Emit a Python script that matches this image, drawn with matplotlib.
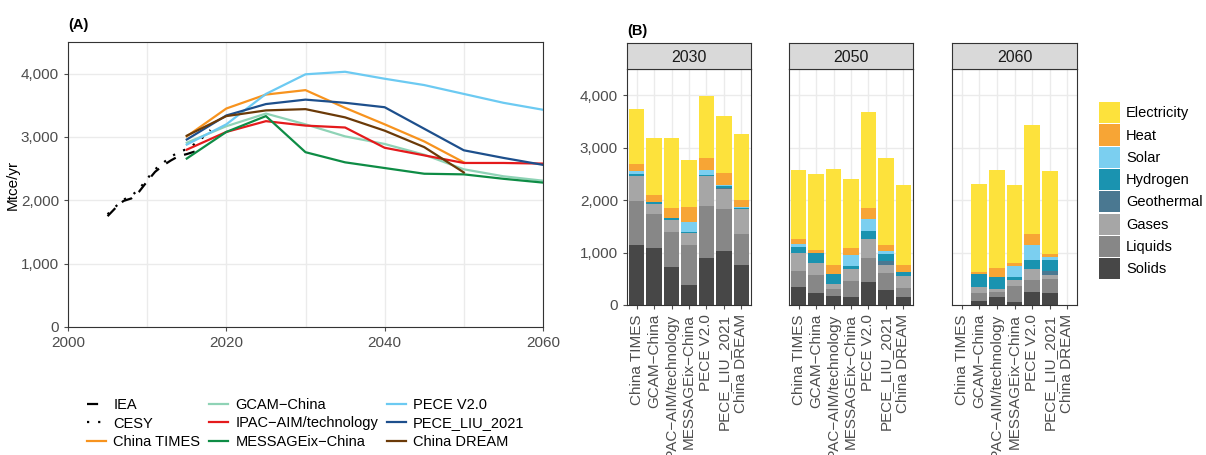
import matplotlib.pyplot as plt
import numpy as np

plt.rcParams['font.family'] = ['Liberation Sans', 'DejaVu Sans']

# ---- Panel A data ----
iea_years = list(range(2005, 2018))
iea_vals = [1750, 1880, 1990, 2030, 2140, 2300, 2450, 2550, 2630, 2700, 2730, 2770, 2820]
cesy_years = list(range(2005, 2019))
cesy_vals = [1780, 1900, 2010, 2070, 2180, 2340, 2490, 2590, 2690, 2760, 2810, 2890, 2990, 3110]

model_years = [2015, 2020, 2025, 2030, 2035, 2040, 2045, 2050, 2055, 2060]
china_times = [3010, 3450, 3670, 3740, 3460, 3200, 2930, 2600]
gcam = [2910, 3170, 3370, 3200, 3010, 2890, 2720, 2490, 2380, 2310]
ipac = [2800, 3080, 3250, 3180, 3150, 2830, 2710, 2590, 2590, 2580]
message = [2660, 3080, 3330, 2760, 2600, 2510, 2420, 2410, 2340, 2280]
pece_v2 = [2880, 3200, 3680, 3990, 4030, 3920, 3820, 3680, 3540, 3430]
pece_liu = [2960, 3340, 3520, 3590, 3540, 3470, 3130, 2790, 2670, 2560]
china_dream = [3020, 3330, 3420, 3440, 3310, 3100, 2840, 2440]

# ---- Panel B data ----
models = ['China TIMES', 'GCAM\u2212China', 'IPAC\u2212AIM/technology', 'MESSAGEix\u2212China',
          'PECE V2.0', 'PECE_LIU_2021', 'China DREAM']
years_b = ['2030', '2050', '2060']
carriers = ['Solids', 'Liquids', 'Gases', 'Geothermal', 'Hydrogen', 'Solar', 'Heat', 'Electricity']
carrier_colors = ['#474747', '#878787', '#a6a6a6', '#4a7891', '#1a93b0', '#7bcff0', '#f7a535', '#fde23c']

# cumulative tops per bar, order: Solids, Liquids, Gases, Geothermal, Hydrogen, Solar, Heat, Electricity
tops_2030 = [
    [1146, 1987, 2465, 2465, 2490, 2548, 2694, 3739],
    [1083, 1732, 1930, 1930, 1955, 1955, 2102, 3185],
    [720, 1389, 1624, 1624, 1650, 1650, 1854, 3185],
    [382, 1146, 1376, 1376, 1401, 1586, 1873, 2771],
    [892, 1892, 2465, 2465, 2478, 2580, 2809, 3994],
    [1032, 1834, 2217, 2236, 2261, 2280, 2522, 3611],
    [764, 1357, 1822, 1822, 1841, 1860, 2006, 3268],
]
tops_2050 = [
    [344, 650, 1000, 1000, 1115, 1172, 1261, 2580],
    [229, 573, 809, 809, 994, 994, 1051, 2503],
    [172, 306, 408, 408, 592, 592, 764, 2599],
    [153, 459, 688, 688, 745, 949, 1089, 2408],
    [439, 892, 1261, 1261, 1414, 1637, 1854, 3688],
    [287, 611, 764, 834, 981, 1025, 1146, 2809],
    [153, 325, 554, 554, 637, 637, 764, 2287],
]
tops_2060 = [
    [0, 0, 0, 0, 0, 0, 0, 0],
    [76, 236, 350, 350, 599, 599, 637, 2312],
    [153, 248, 306, 306, 541, 541, 713, 2580],
    [57, 369, 484, 484, 541, 752, 809, 2293],
    [248, 478, 694, 694, 866, 1140, 1357, 3439],
    [229, 497, 580, 650, 866, 917, 975, 2561],
    [0, 0, 0, 0, 0, 0, 0, 0],
]
tops_all = [tops_2030, tops_2050, tops_2060]

W, H = 1206, 455
fig = plt.figure(figsize=(W / 100, H / 100), dpi=100)


def box(l, t, r, b):
    return [l / W, 1 - b / H, (r - l) / W, (b - t) / H]


grid_c = '#ebebeb'
tick_c = '#4d4d4d'
frame_c = '#333333'
fs = 10.5

# ---- Panel A ----
ax = fig.add_axes(box(68, 42, 543, 327))
ax.set_xlim(2000, 2060)
ax.set_ylim(0, 4500)
ax.set_xticks([2000, 2020, 2040, 2060])
ax.set_xticks([2010, 2030, 2050], minor=True)
ax.set_yticks([0, 1000, 2000, 3000, 4000])
ax.set_yticklabels(['0', '1,000', '2,000', '3,000', '4,000'])
ax.grid(True, which='both', color=grid_c, lw=1)
ax.set_axisbelow(True)
ax.tick_params(labelsize=fs + 0.5, colors=tick_c, length=3, which='major')
ax.tick_params(which='minor', length=0)
for s in ax.spines.values():
    s.set_color(frame_c)
ax.set_ylabel('Mtce/yr', fontsize=fs + 0.5)
ax.yaxis.set_label_coords(-48 / 475, 0.5)

lw = 1.6
lines = [
    ('IEA', iea_years, iea_vals, 'black', (0, (5, 4))),
    ('CESY', cesy_years, cesy_vals, 'black', (0, (1, 4))),
    ('China TIMES', model_years[:len(china_times)], china_times, '#f7931e', '-'),
    ('GCAM\u2212China', model_years, gcam, '#8fd3b6', '-'),
    ('IPAC\u2212AIM/technology', model_years, ipac, '#e41a1c', '-'),
    ('MESSAGEix\u2212China', model_years, message, '#0e8c45', '-'),
    ('PECE V2.0', model_years, pece_v2, '#6ccaf2', '-'),
    ('PECE_LIU_2021', model_years, pece_liu, '#1d4f8c', '-'),
    ('China DREAM', model_years[:len(china_dream)], china_dream, '#6b3a08', '-'),
]
handles = []
for name, xs, ys, c, ls in lines:
    h, = ax.plot(xs, ys, color=c, ls=ls, lw=lw, label=name)
    handles.append(h)
ax.text(0, 1.035, '(A)', transform=ax.transAxes, fontsize=fs, fontweight='bold', va='bottom')

fig.legend(handles=handles, loc='upper left', bbox_to_anchor=(74 / W, 1 - 385 / H),
           ncol=3, frameon=False, fontsize=fs, handlelength=1.3, handletextpad=0.5,
           columnspacing=0.6, labelspacing=0.3)

# ---- Panel B ----
facet_x = [(627, 751), (789, 913), (952, 1077)]
x = np.arange(len(models))
for i, (xl, xr) in enumerate(facet_x):
    axb = fig.add_axes(box(xl, 69, xr, 305))
    tops = np.array(tops_all[i])
    bottom = np.zeros(len(models))
    for k, carrier in enumerate(carriers):
        top = tops[:, k]
        axb.bar(x, top - bottom, bottom=bottom, width=0.9, color=carrier_colors[k],
                edgecolor='none', label=carrier, zorder=2)
        bottom = top
    axb.set_xlim(-0.55, len(models) - 0.45)
    axb.set_ylim(0, 4500)
    axb.set_yticks([0, 1000, 2000, 3000, 4000])
    axb.set_xticks(x)
    axb.set_xticklabels(models, rotation=90, fontsize=fs + 0.5, color=tick_c)
    axb.grid(True, color=grid_c, lw=1, zorder=0)
    axb.set_axisbelow(True)
    axb.tick_params(colors=tick_c, length=3)
    if i == 0:
        axb.set_yticklabels(['0', '1,000', '2,000', '3,000', '4,000'], fontsize=fs + 0.5)
    else:
        axb.tick_params(axis='y', length=0, labelleft=False)
    for s in axb.spines.values():
        s.set_color(frame_c)
    # facet strip
    sax = fig.add_axes(box(xl, 43, xr, 69))
    sax.set_facecolor('#d9d9d9')
    sax.set_xticks([])
    sax.set_yticks([])
    for s in sax.spines.values():
        s.set_color(frame_c)
    sax.text(0.5, 0.45, years_b[i], ha='center', va='center', fontsize=fs + 1, color='#1a1a1a',
             transform=sax.transAxes)
    if i == 0:
        sax.text(0, 1.2, '(B)', transform=sax.transAxes, fontsize=fs, fontweight='bold', va='bottom')
        bar_handles, bar_labels = axb.get_legend_handles_labels()

fig.legend(bar_handles[::-1], bar_labels[::-1], loc='upper left',
           bbox_to_anchor=(1086 / W, 1 - 89 / H), frameon=False, fontsize=fs,
           handlelength=1.45, handleheight=1.85, handletextpad=0.4, labelspacing=0.08)

fig.savefig('out.png', dpi=100)
